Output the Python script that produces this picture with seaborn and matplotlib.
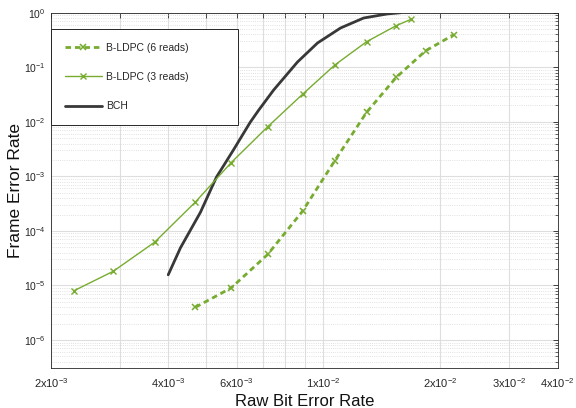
import matplotlib
matplotlib.use("Agg")
import matplotlib.pyplot as plt
import seaborn as sns
import pandas as pd
import numpy as np
from matplotlib.ticker import FixedLocator, FixedFormatter, NullFormatter

# ---- data ----
rber_6reads = [4.70e-3, 5.80e-3, 7.20e-3, 8.85e-3, 1.071e-2, 1.292e-2, 1.539e-2, 1.831e-2, 2.163e-2]
fer_6reads = [4.0e-6, 9.0e-6, 3.7e-5, 2.3e-4, 1.94e-3, 1.49e-2, 6.5e-2, 0.20, 0.395]

rber_3reads = [2.29e-3, 2.89e-3, 3.69e-3, 4.70e-3, 5.80e-3, 7.20e-3, 8.85e-3, 1.071e-2, 1.292e-2, 1.539e-2, 1.68e-2]
fer_3reads = [8.0e-6, 1.82e-5, 6.2e-5, 3.4e-4, 1.78e-3, 8.1e-3, 3.2e-2, 0.110, 0.294, 0.578, 0.757]

rber_bch = [4.0e-3, 4.3e-3, 4.84e-3, 5.32e-3, 5.88e-3, 6.5e-3, 6.83e-3, 7.46e-3, 8.59e-3,
            9.67e-3, 1.108e-2, 1.27e-2, 1.46e-2, 1.58e-2]
fer_bch = [1.57e-5, 4.9e-5, 2.2e-4, 9.7e-4, 3.04e-3, 9.9e-3, 1.64e-2, 3.83e-2, 0.125,
           0.279, 0.525, 0.80, 0.95, 1.0]

labels = ["B-LDPC (6 reads)", "B-LDPC (3 reads)", "BCH"]

x_ticks = [2e-3, 3e-3, 4e-3, 5e-3, 6e-3, 7e-3, 8e-3, 9e-3, 1e-2, 2e-2, 3e-2, 4e-2]
x_ticklabels = ["2x10$^{-3}$", "", "4x10$^{-3}$", "", "6x10$^{-3}$", "", "", "",
                "1x10$^{-2}$", "2x10$^{-2}$", "3x10$^{-2}$", "4x10$^{-2}$"]
y_ticks = [1e-6, 1e-5, 1e-4, 1e-3, 1e-2, 1e-1, 1e0]
y_ticklabels = ["10$^{-6}$", "10$^{-5}$", "10$^{-4}$", "10$^{-3}$", "10$^{-2}$", "10$^{-1}$", "10$^{0}$"]

# ---- style ----
sns.set_style("white")
plt.rcParams["font.family"] = ["Liberation Sans", "DejaVu Sans"]
plt.rcParams["mathtext.fontset"] = "custom"
plt.rcParams["mathtext.rm"] = "Liberation Sans"
plt.rcParams["mathtext.it"] = "Liberation Sans:italic"
plt.rcParams["mathtext.bf"] = "Liberation Sans:bold"
plt.rcParams["mathtext.default"] = "regular"

green = "#77AC30"
dark = "#383838"
axcol = "#262626"

fig = plt.figure(figsize=(5.76, 4.08), dpi=100)
ax = fig.add_axes([0.0885, 0.098, 0.8797, 0.8708])

df6 = pd.DataFrame({"x": rber_6reads, "y": fer_6reads})
df3 = pd.DataFrame({"x": rber_3reads, "y": fer_3reads})
dfb = pd.DataFrame({"x": rber_bch, "y": fer_bch})

sns.lineplot(data=df6, x="x", y="y", ax=ax, color=green, lw=2.0, marker="x",
             markersize=5, markeredgewidth=1.1, markeredgecolor=green,
             dashes=False, label=labels[0], zorder=4)
ax.lines[-1].set_dashes((2.0, 1.4))
sns.lineplot(data=df3, x="x", y="y", ax=ax, color=green, lw=1.0, marker="x",
             markersize=5, markeredgewidth=1.0, markeredgecolor=green,
             label=labels[1], zorder=4)
sns.lineplot(data=dfb, x="x", y="y", ax=ax, color=dark, lw=2.0,
             label=labels[2], zorder=3)

ax.set_xscale("log")
ax.set_yscale("log")
ax.set_xlim(2e-3, 4e-2)
ax.set_ylim(3.07e-7, 1.0)

ax.xaxis.set_major_locator(FixedLocator(x_ticks))
ax.xaxis.set_major_formatter(FixedFormatter(x_ticklabels))
ax.xaxis.set_minor_locator(FixedLocator([]))
ax.xaxis.set_minor_formatter(NullFormatter())

minor_y = [m * 10.0 ** e for e in range(-7, 0) for m in range(2, 10)]
minor_y = [v for v in minor_y if 3.07e-7 <= v <= 1.0]
ax.yaxis.set_major_locator(FixedLocator(y_ticks))
ax.yaxis.set_major_formatter(FixedFormatter(y_ticklabels))
ax.yaxis.set_minor_locator(FixedLocator(minor_y))
ax.yaxis.set_minor_formatter(NullFormatter())

ax.grid(True, which="major", axis="both", color="#dedede", lw=0.8, ls="-", zorder=0)
ax.grid(True, which="minor", axis="y", color="#d8d8d8", lw=0.6, ls=(0, (1, 1.6)), zorder=0)
ax.set_axisbelow(True)

ax.tick_params(which="major", direction="in", length=3.5, width=0.6, color=axcol,
               top=True, right=True, labelsize=8, labelcolor="#262626")
ax.tick_params(axis="y", which="major", pad=4, labelsize=7.5)
ax.tick_params(axis="x", which="major", pad=6)
ax.tick_params(which="minor", direction="in", length=2, width=0.5, color=axcol,
               top=True, right=True)
for s in ax.spines.values():
    s.set_visible(True)
    s.set_color(axcol)
    s.set_linewidth(0.6)

ax.set_xlabel("Raw Bit Error Rate", fontsize=12, color="#111111", labelpad=3)
ax.set_ylabel("Frame Error Rate", fontsize=12.5, color="#111111")
ax.yaxis.set_label_coords(-0.055, 0.5)

leg = ax.legend(loc="upper left", bbox_to_anchor=(0.0, 0.954, 0.369, 0.0),
                mode="expand", borderaxespad=0, fontsize=7.5, frameon=True,
                fancybox=False, edgecolor=axcol, framealpha=1.0,
                labelspacing=1.85, handlelength=3.6, handletextpad=0.4,
                borderpad=1.3)
leg.get_frame().set_linewidth(0.7)

fig.savefig("out.png", dpi=100)
